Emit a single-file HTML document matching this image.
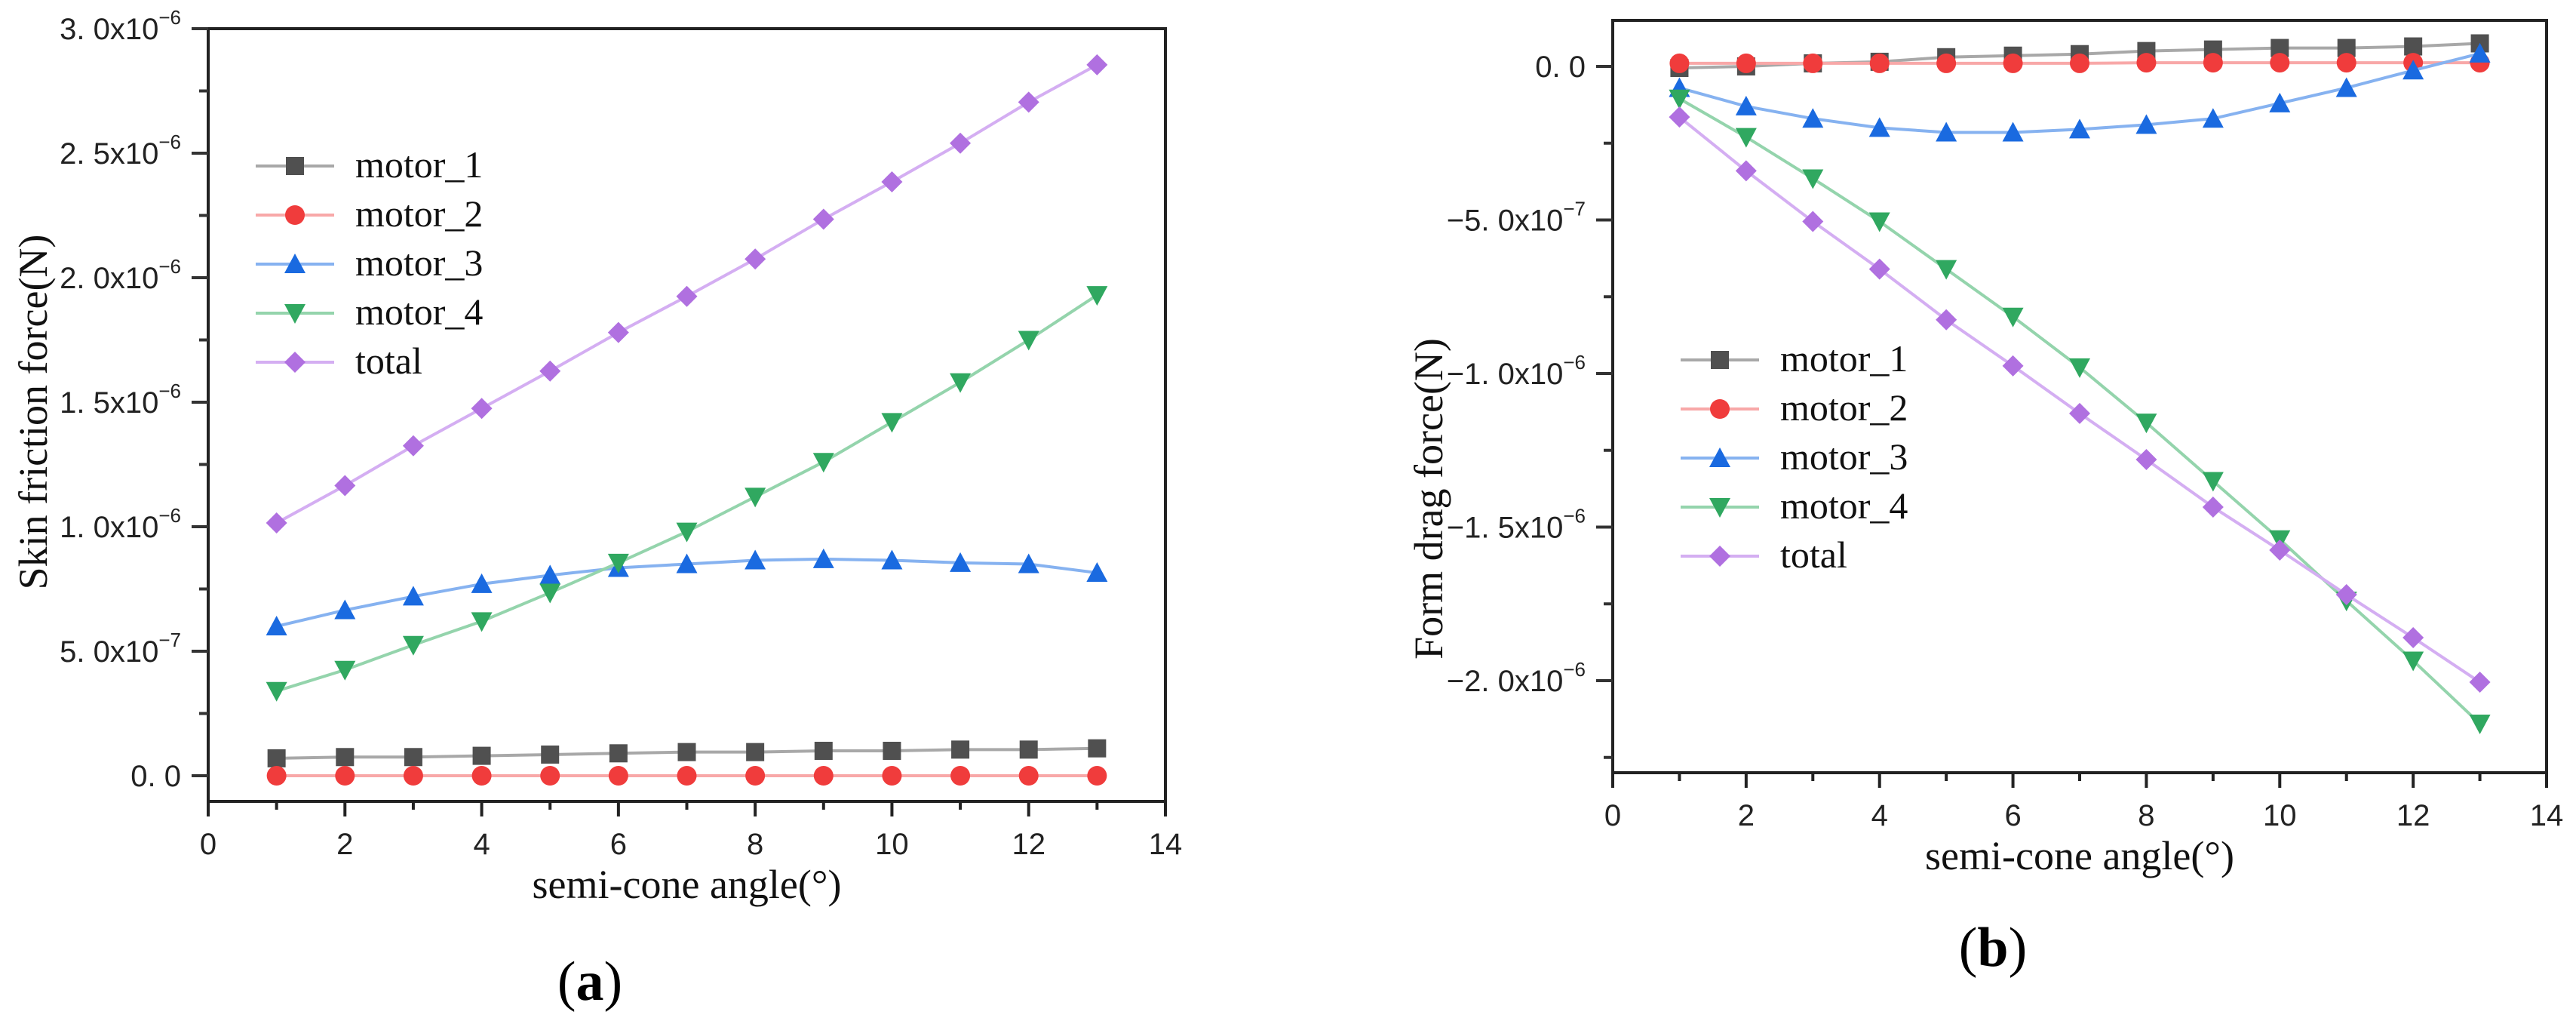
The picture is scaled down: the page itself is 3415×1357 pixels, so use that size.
<!DOCTYPE html>
<html><head><meta charset="utf-8"><style>
html,body{margin:0;padding:0;background:#fff;}
svg{display:block;}
</style></head><body>
<svg id="fig" width="3415" height="1357" viewBox="0 0 3415 1357" xmlns="http://www.w3.org/2000/svg"></svg>
<script>
const xs = [1,2,3,4,5,6,7,8,9,10,11,12,13];
const seriesNames = ["motor_1","motor_2","motor_3","motor_4","total"];
// panel (a) skin friction, units 1e-7 N
const a_motor1 = [0.7,0.75,0.75,0.8,0.85,0.9,0.95,0.95,1.0,1.0,1.05,1.05,1.1];
const a_motor2 = [0,0,0,0,0,0,0,0,0,0,0,0,0];
const a_motor3 = [6.0,6.65,7.2,7.7,8.05,8.35,8.5,8.65,8.7,8.65,8.55,8.5,8.15];
const a_motor4 = [3.4,4.25,5.25,6.2,7.35,8.55,9.8,11.2,12.6,14.2,15.8,17.5,19.3];
const a_total = [10.15,11.65,13.25,14.75,16.25,17.8,19.25,20.75,22.35,23.85,25.4,27.05,28.55];
// panel (b) form drag, units 1e-7 N
const b_motor1 = [-0.05,0,0.1,0.15,0.3,0.35,0.4,0.5,0.55,0.6,0.6,0.65,0.75];
const b_motor2 = [0.1,0.1,0.1,0.1,0.1,0.1,0.1,0.12,0.12,0.12,0.12,0.12,0.12];
const b_motor3 = [-0.7,-1.3,-1.7,-2.0,-2.15,-2.15,-2.05,-1.9,-1.7,-1.2,-0.7,-0.13,0.42];
const b_motor4 = [-1.05,-2.3,-3.65,-5.05,-6.6,-8.15,-9.8,-11.6,-13.5,-15.4,-17.4,-19.35,-21.4];
const b_total = [-1.65,-3.4,-5.05,-6.6,-8.25,-9.75,-11.3,-12.8,-14.35,-15.75,-17.2,-18.6,-20.05];
const xTicks = [0,2,4,6,8,10,12,14];
const a_yTicks = [0,5,10,15,20,25,30];
const a_yLabels = [["0. 0",""],["5. 0x10","−7"],["1. 0x10","−6"],["1. 5x10","−6"],["2. 0x10","−6"],["2. 5x10","−6"],["3. 0x10","−6"]];
const b_yTicks = [0,-5,-10,-15,-20];
const b_yLabels = [["0. 0",""],["−5. 0x10","−7"],["−1. 0x10","−6"],["−1. 5x10","−6"],["−2. 0x10","−6"]];

const NS="http://www.w3.org/2000/svg";
const SANS='"Liberation Sans", sans-serif';
const SERIF='"Liberation Serif", serif';
const svg=document.getElementById('fig');
function mk(tag,attrs,parent){const e=document.createElementNS(NS,tag);for(const k in attrs)e.setAttribute(k,attrs[k]);(parent||svg).appendChild(e);return e;}
const colors=[["#505050","#a8a8a8"],["#f03c3c","#f8a8a8"],["#1a6ae0","#86b2f0"],["#30a860","#94d4ac"],["#b070e0","#d4aef2"]];
const shapes=["square","circle","up","down","diamond"];
function marker(g,shape,cx,cy,c){
  const s=12;
  if(shape==="square")return mk('rect',{x:cx-s,y:cy-s,width:2*s,height:2*s,fill:c},g);
  if(shape==="circle")return mk('circle',{cx:cx,cy:cy,r:s+1,fill:c},g);
  if(shape==="up")return mk('polygon',{points:`${cx},${cy-s-2} ${cx+s+2},${cy+s} ${cx-s-2},${cy+s}`,fill:c},g);
  if(shape==="down")return mk('polygon',{points:`${cx-s-2},${cy-s} ${cx+s+2},${cy-s} ${cx},${cy+s+2}`,fill:c},g);
  return mk('polygon',{points:`${cx},${cy-s-2} ${cx+s+2},${cy} ${cx},${cy+s+2} ${cx-s-2},${cy}`,fill:c},g);
}
function panel(cfg){
  const g=mk('g',{});
  
  
  const X=v=>cfg.x0+(v-0)/14*(cfg.x1-cfg.x0);
  const Y=v=>cfg.yz+(cfg.yref-cfg.yz)*(v/cfg.vref);
  const box=mk('rect',{x:cfg.x0,y:cfg.top,width:cfg.x1-cfg.x0,height:cfg.bot-cfg.top,fill:"none",stroke:"#222","stroke-width":4},g);
  
  
  for(let v=0;v<=14;v++){
    const major=v%2===0;
    mk('line',{x1:X(v),x2:X(v),y1:cfg.bot,y2:cfg.bot+(major?20:11),stroke:"#222","stroke-width":4},g);
  }
  xTicks.forEach(v=>{const t=mk('text',{x:X(v),y:cfg.bot+70,"font-size":40,"text-anchor":"middle","font-family":SANS,fill:"#222"},g);t.textContent=v;
    
    });
  const yt=cfg.yTicks;
  const step=yt[1]-yt[0];
  const all=[];for(let i=0;i<yt.length;i++){all.push([yt[i],true]);all.push([yt[i]+step/2,false]);}
  all.push([yt[0]-step/2,false]);
  all.forEach(([v,major])=>{const yy=Y(v);if(yy<cfg.top-1||yy>cfg.bot+1)return;
    mk('line',{x1:cfg.x0-(major?22:12),x2:cfg.x0,y1:yy,y2:yy,stroke:"#333","stroke-width":4},g);});
  yt.forEach((v,i)=>{const lab=cfg.yLabels[i];const t=mk('text',{x:cfg.x0-36,y:Y(v)+14,"font-size":40,"text-anchor":"end","font-family":SANS,fill:"#222"},g);
    
    
    t.appendChild(document.createTextNode(lab[0]));
    if(lab[1]){const sp=mk('tspan',{dy:-20,"font-size":26},t);sp.textContent=lab[1];}});
  const xt=mk('text',{x:(cfg.x0+cfg.x1)/2,y:cfg.xtY,"font-size":54,"text-anchor":"middle","font-family":SERIF,fill:"#111"},g);
  xt.textContent="semi-cone angle(°)";
  
  
  const ytl=mk('text',{x:0,y:0,"font-size":54,"text-anchor":"middle","font-family":SERIF,fill:"#111",transform:`translate(${cfg.ytX},${cfg.ytY}) rotate(-90)`},g);
  ytl.textContent=cfg.ytitle;
  
  
  const cap=mk('text',{x:cfg.capX,y:cfg.capY,"font-size":74,"text-anchor":"middle","font-family":SERIF,fill:"#000"},g);
  cap.appendChild(document.createTextNode("("));
  const b=mk('tspan',{"font-weight":"bold"},cap);b.textContent=cfg.cap;
  cap.appendChild(document.createTextNode(")"));
  
  
  cfg.series.forEach((data,si)=>{
    const sg=mk('g',{},g);
    
    
    const pts=xs.map((x,i)=>`${X(x)},${Y(data[i])}`).join(' ');
    mk('polyline',{points:pts,fill:"none",stroke:colors[si][1],"stroke-width":4},sg);
    xs.forEach((x,i)=>{const m=marker(sg,shapes[si],X(x),Y(data[i]),colors[si][0]);
      
      });
  });
  const lg=mk('g',{},g);
  
  
  seriesNames.forEach((n,si)=>{
    const yy=cfg.legY+si*65;
    const eg=mk('g',{},lg);
    
    
    mk('line',{x1:cfg.legX,x2:cfg.legX+104,y1:yy,y2:yy,stroke:colors[si][1],"stroke-width":4},eg);
    marker(eg,shapes[si],cfg.legX+52,yy,colors[si][0]);
    const t=mk('text',{x:cfg.legX+132,y:yy+15,"font-size":50,"font-family":SERIF,fill:"#111"},eg);t.textContent=n;
  });
}
panel({name:"chart-a-skin-friction",x0:276,x1:1545,top:38,bot:1062,yz:1028,yref:38,vref:30,
  yTicks:a_yTicks,yLabels:a_yLabels,series:[a_motor1,a_motor2,a_motor3,a_motor4,a_total],
  ytitle:"Skin friction force(N)",ytX:62,ytY:546,xtY:1190,capX:782,capY:1325,cap:"a",legX:339,legY:220});
panel({name:"chart-b-form-drag",x0:2138,x1:3376,top:27,bot:1024,yz:88,yref:902,vref:-20,
  yTicks:b_yTicks,yLabels:b_yLabels,series:[b_motor1,b_motor2,b_motor3,b_motor4,b_total],
  ytitle:"Form drag force(N)",ytX:1912,ytY:661,xtY:1152,capX:2642,capY:1280,cap:"b",legX:2228,legY:477})
</script>
</body></html>
